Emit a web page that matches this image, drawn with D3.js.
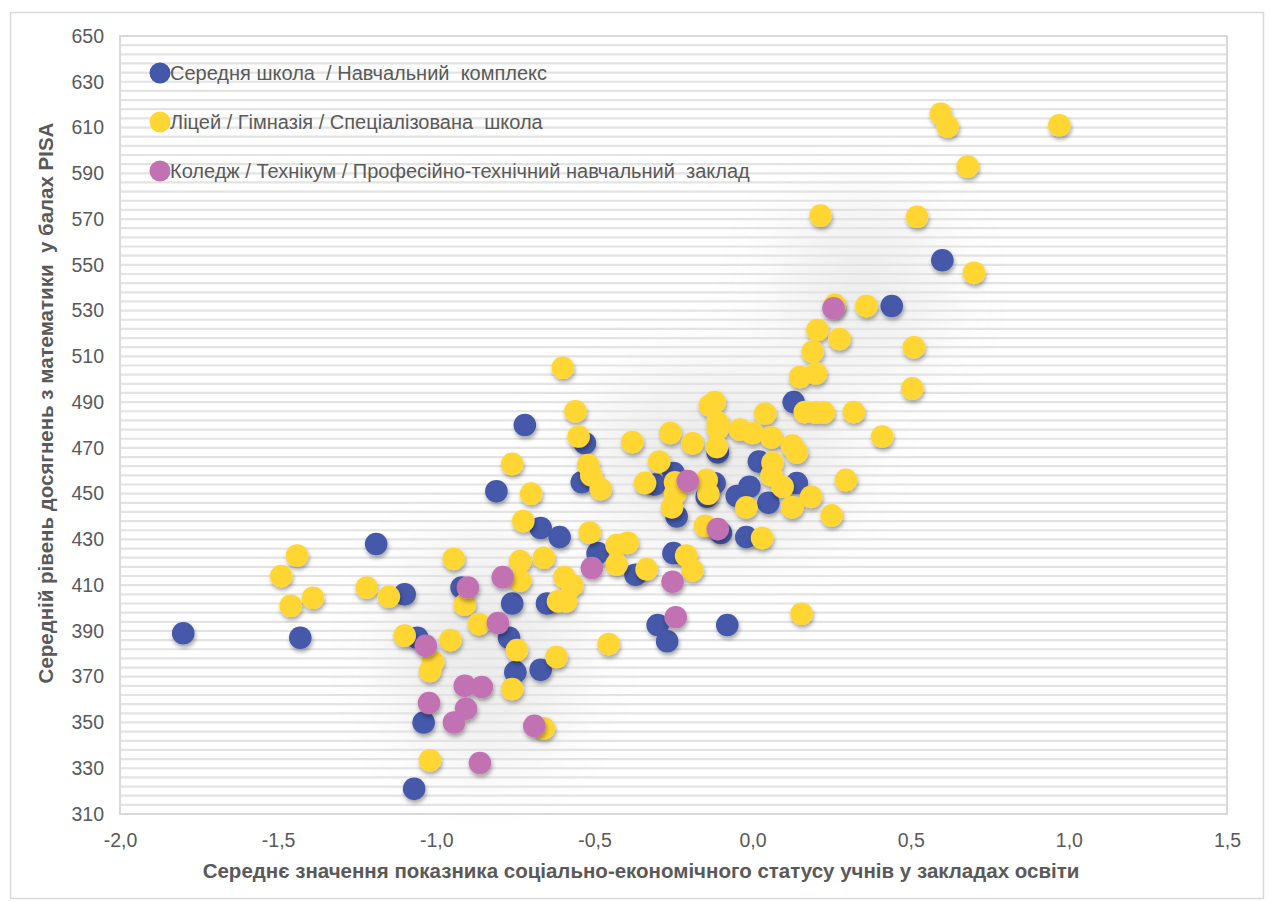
<!DOCTYPE html>
<html><head><meta charset="utf-8">
<script src="https://cdn.jsdelivr.net/npm/d3@7"></script>
<style>
html,body{margin:0;padding:0;background:#fff;}
svg{display:block;font-family:"Liberation Sans",Arial,sans-serif;}
</style></head>
<body><svg id="chart" width="1270" height="902"></svg>
<script>
const seriesNames = [
  "Середня школа  / Навчальний  комплекс",
  "Ліцей / Гімназія / Спеціалізована  школа",
  "Коледж / Технікум / Професійно-технічний навчальний  заклад"
];
const seriesColors = ["#4458a9", "#ffd633", "#c272b2"];
const xTicks = [-2.0, -1.5, -1.0, -0.5, 0.0, 0.5, 1.0, 1.5];
const yTicks = [310, 330, 350, 370, 390, 410, 430, 450, 470, 490, 510, 530, 550, 570, 590, 610, 630, 650];
const xTitle = "Середнє значення показника соціально-економічного статусу учнів у закладах освіти";
const yTitle = "Середній рівень досягнень з математики  у балах PISA";

const blueX = [-1.80,-1.43,-1.19,-1.10,-1.06,-1.04,-1.07,-0.92,-0.81,-0.72,-0.76,-0.77,-0.75,-0.67,-0.61,-0.65,-0.67,-0.53,-0.54,-0.49,-0.31,-0.25,-0.24,-0.25,-0.37,-0.30,-0.27,-0.08,-0.11,0.02,-0.145,-0.12,-0.05,-0.01,0.05,0.14,-0.10,-0.02,0.13,0.60,0.44];
const blueY = [389,387,428,406,387,350,321,409,451,480,402,387,372,435,431,402,373,472,455,424,454,459,440,424,414.5,392.6,385.5,392.6,468,464,448.6,454.5,449,453,446,454.6,432.8,431,490,552,532];

const yellowX = [-1.44,-1.49,-1.46,-1.39,-1.22,-1.15,-1.10,-1.01,-1.02,-1.02,-0.945,-0.91,-0.955,-0.865,-0.735,-0.735,-0.725,-0.745,-0.76,-0.66,-0.66,-0.76,-0.70,-0.60,-0.56,-0.55,-0.52,-0.51,-0.48,-0.515,-0.595,-0.57,-0.59,-0.615,-0.62,-0.455,-0.43,-0.395,-0.43,-0.335,-0.38,-0.26,-0.295,-0.34,-0.245,-0.255,-0.19,-0.21,-0.19,-0.12,-0.135,-0.11,-0.11,-0.113,-0.04,0.0,0.06,0.04,-0.145,-0.14,-0.15,0.03,-0.02,0.063,0.06,0.095,0.125,0.185,0.25,0.295,0.125,0.14,0.41,0.165,0.2,0.225,0.32,0.15,0.2,0.505,0.19,0.51,0.275,0.205,0.26,0.36,0.215,0.52,0.70,0.68,0.595,0.617,0.97,0.155,-0.245];
const yellowY = [423,414,401,404.5,409,405,388,376.5,372.5,333.5,421.5,401.5,386,393,420.5,412,438,381.7,364.6,422,347.5,463,450,505,486,475,462.5,458,452,433,413.6,410,403,403,378.6,384.3,427.5,428.5,419,417,472.6,476.5,464,454.7,450,444,472,423,416.5,490,488.5,481,478.5,470.4,478,476.5,474.5,485,456,450,436,430.6,444,463.5,458,453,444,448.6,440.5,456,471,468,475,485.7,485.5,485.5,485.7,501,502.5,496,512,514,517.6,521.5,532.5,532,571.5,571,546.5,593,616,610.5,611,397.5,455];

const pinkX = [-1.033,-1.023,-0.90,-0.79,-0.805,-0.91,-0.856,-0.906,-0.944,-0.862,-0.69,-0.508,-0.253,-0.243,-0.205,-0.11,0.256];
const pinkY = [383.5,358.5,409,413.5,393.5,366,365.5,356,350,332.3,348.5,417.5,411.5,396,455.5,434.5,531];

const seriesX = [blueX, yellowX, pinkX];
const seriesY = [blueY, yellowY, pinkY];

(function draw() {
const svg = d3.select("#chart");
const pL = 120, pR = 1227, pT = 36, pB = 814;
const x = d3.scaleLinear().domain([-2, 1.5]).range([pL, pR]);
const y = d3.scaleLinear().domain([310, 650]).range([pB, pT]);

const defs = svg.append("defs");
const sh = defs.append("filter").attr("id","shadow").attr("x","-50%").attr("y","-50%").attr("width","200%").attr("height","200%");
sh.append("feDropShadow").attr("dx",1).attr("dy",3).attr("stdDeviation",2).attr("flood-color","#000").attr("flood-opacity",0.35);
const blur = defs.append("filter").attr("id","blur").attr("x","-100%").attr("y","-100%").attr("width","300%").attr("height","300%");
blur.append("feGaussianBlur").attr("stdDeviation",40);

// outer frame
svg.append("rect").attr("x",10.5).attr("y",12.5).attr("width",1253).attr("height",886)
  .attr("fill","#fff").attr("stroke","#d9d9d9").attr("stroke-width",1.5);

// plot area
svg.append("rect").attr("x",pL).attr("y",pT).attr("width",pR-pL).attr("height",pB-pT)
  .attr("fill","#fff");

// soft background glow
const glow = svg.append("g").attr("filter","url(#blur)").attr("opacity",0.11);
glow.append("ellipse").attr("cx",x(-0.1)).attr("cy",y(465)).attr("rx",130).attr("ry",90).attr("fill","#555");
glow.append("ellipse").attr("cx",x(-0.85)).attr("cy",y(380)).attr("rx",90).attr("ry",110).attr("fill","#555");
glow.append("ellipse").attr("cx",x(0.35)).attr("cy",y(540)).attr("rx",80).attr("ry",90).attr("fill","#666");

// striped minor gridlines every 4 units
const grid = d3.range(310, 650.01, 4);
svg.append("g").selectAll("line").data(grid).join("line")
  .attr("x1",pL).attr("x2",pR)
  .attr("y1",d=>y(d)).attr("y2",d=>y(d))
  .attr("stroke","#e3e3e3").attr("stroke-width",2.2);

// plot border
svg.append("rect").attr("x",pL).attr("y",pT).attr("width",pR-pL).attr("height",pB-pT)
  .attr("fill","none").attr("stroke","#d9d9d9").attr("stroke-width",2);

// axes
const fmt = d => d.toFixed(1).replace(".", ",");
const xAxis = svg.append("g").attr("transform",`translate(0,${pB})`)
  .call(d3.axisBottom(x).tickValues(xTicks).tickFormat(fmt).tickSize(0).tickPadding(19));
xAxis.select(".domain").remove();
xAxis.selectAll("text").attr("fill","#595959").style("font-size","19.5px");

const yAxis = svg.append("g").attr("transform",`translate(${pL},0)`)
  .call(d3.axisLeft(y).tickValues(yTicks).tickFormat(d3.format("d")).tickSize(0).tickPadding(16));
yAxis.select(".domain").remove();
yAxis.selectAll("text").attr("fill","#595959").style("font-size","19.5px");

// titles
svg.append("text").attr("x",641).attr("y",878).attr("text-anchor","middle")
  .attr("fill","#595959").style("font-size","20.5px").style("font-weight","bold").style("white-space","pre")
  .text(xTitle);
svg.append("text").attr("transform",`translate(53,${403}) rotate(-90)`).attr("text-anchor","middle")
  .attr("fill","#595959").style("font-size","20.5px").style("font-weight","bold").style("white-space","pre")
  .text(yTitle);

// points
const r = 11.3;
seriesX.forEach((xs, si) => {
  const data = xs.map((v, i) => ({x: v, y: seriesY[si][i]}));
  svg.append("g").attr("filter","url(#shadow)").selectAll("circle").data(data).join("circle")
    .attr("cx", d => x(d.x)).attr("cy", d => y(d.y)).attr("r", r)
    .attr("fill", seriesColors[si]);
});

// legend
const legendY = [73, 122, 171];
seriesNames.forEach((name, i) => {
  const g = svg.append("g");
  g.append("circle").attr("cx",160).attr("cy",legendY[i]).attr("r",10.5).attr("fill",seriesColors[i]);
  g.append("text").attr("x",170).attr("y",legendY[i]).attr("dy","0.36em")
    .attr("fill","#595959").style("font-size","20px").style("white-space","pre").text(name);
});
})();
</script></body></html>
